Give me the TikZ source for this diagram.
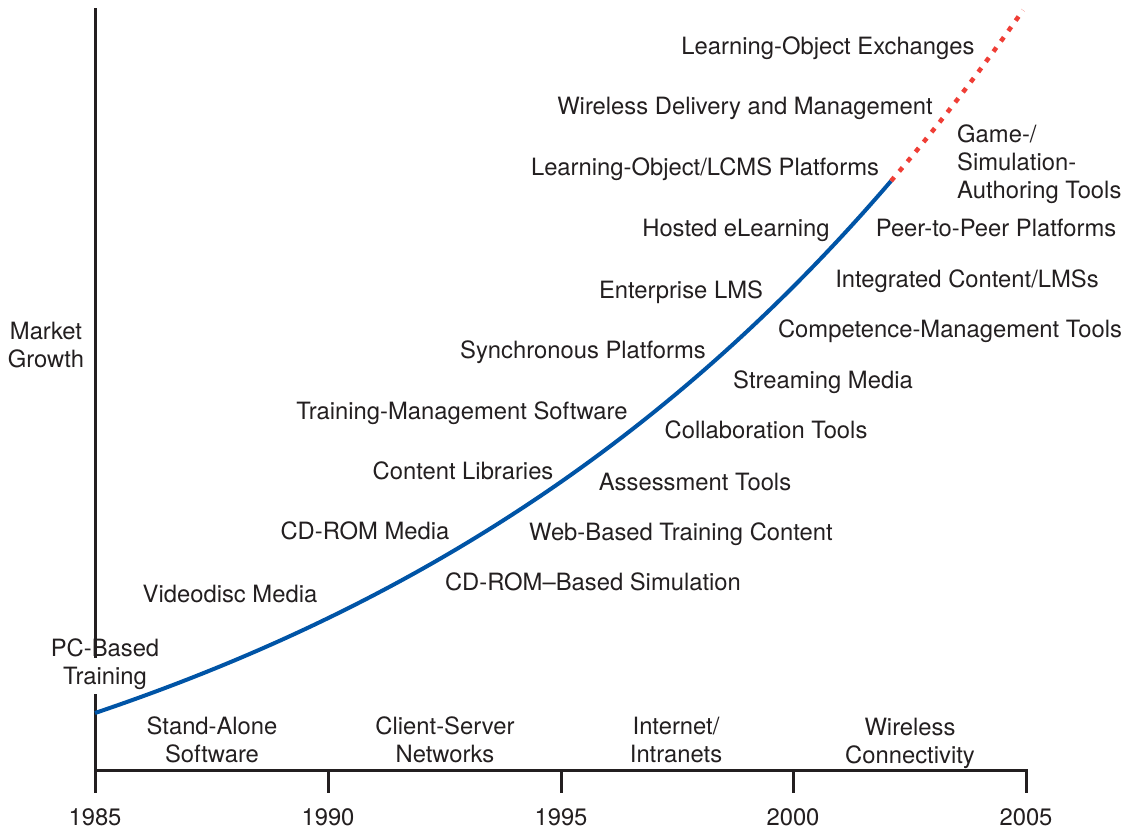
\documentclass[tikz,border=0pt]{standalone}
\usepackage{fontspec}
\setmainfont{TeX Gyre Heros}
\definecolor{txt}{HTML}{231F20}
\definecolor{curveblue}{HTML}{0054A6}
\definecolor{futred}{HTML}{EF3E36}
\begin{document}
\begin{tikzpicture}[x=1pt,y=-1pt,
  lbl/.style={text=txt, font=\fontsize{23.8}{28}\selectfont, inner sep=0pt, align=center, text height=17.1pt, text depth=0pt},
  lbll/.style={lbl, align=left, anchor=west},
  axisline/.style={draw=txt, line width=3pt},
  growth/.style={draw=curveblue, line width=4pt},
  future/.style={draw=futred, line width=4.5pt, dash pattern=on 5pt off 7.7pt}]
\useasboundingbox (0,0) rectangle (1129,831);
% axes
\coordinate (ytop) at (95,8);
\coordinate (ybot) at (95,793);
\coordinate (x0) at (95,770);
\coordinate (x5) at (1026,770);
\coordinate (x5b) at (1026,793);
\draw[axisline] (ytop) -- (ybot);
\draw[axisline] (x0) -- (x5) -- (x5b);
\foreach \t/\xx in {1/328,2/561,3/793} {
  \coordinate (t\t a) at (\xx,770);
  \coordinate (t\t b) at (\xx,793);
  \draw[axisline] (t\t a) -- (t\t b);
}
% years
\node[lbl] (y1985) at (95,817) {1985};
\node[lbl] (y1990) at (328,817) {1990};
\node[lbl] (y1995) at (561,817) {1995};
\node[lbl] (y2000) at (793,817) {2000};
\node[lbl] (y2005) at (1026,817) {2005};
% eras
\node[lbl] (era1) at (212,754) {Stand-Alone\\Software};
\node[lbl] (era2) at (445,754) {Client-Server\\Networks};
\node[lbl] (era3) at (676,754) {Internet/\\Intranets};
\node[lbl] (era4) at (910,755) {Wireless\\Connectivity};
% y labels
\node[lbl] (mg) at (46,359) {Market\\Growth};
\node[lbl, fill=white, inner sep=9pt] (pc) at (105,676) {PC-Based\\Training};
% curve
\draw[growth] plot[domain=95:891,samples=120] (\x,{713-217*(exp(0.00155*(\x-95))-1)});
\draw[future] plot[domain=891:1023,samples=40] (\x,{713-217*(exp(0.00155*(\x-95))-1)});
% labels
\node[lbl] (l1) at (828,46) {Learning-Object Exchanges};
\node[lbl] (l2) at (745,106) {Wireless Delivery and Management};
\node[lbll] (l3) at (957,190) {Game-/\\Simulation-\\Authoring Tools};
\node[lbl] (l4) at (705,167) {Learning-Object/LCMS Platforms};
\node[lbl] (l5) at (736,228) {Hosted eLearning};
\node[lbl] (l6) at (996,228) {Peer-to-Peer Platforms};
\node[lbl] (l7) at (681,290) {Enterprise LMS};
\node[lbl] (l8) at (967,279) {Integrated Content/LMSs};
\node[lbl] (l9) at (950,329) {Competence-Management Tools};
\node[lbl] (l10) at (583,350) {Synchronous Platforms};
\node[lbl] (l11) at (823,380) {Streaming Media};
\node[lbl] (l12) at (462,411) {Training-Management Software};
\node[lbl] (l13) at (766,430) {Collaboration Tools};
\node[lbl] (l14) at (463,471) {Content Libraries};
\node[lbl] (l15) at (695,482) {Assessment Tools};
\node[lbl] (l16) at (365,531) {CD-ROM Media};
\node[lbl] (l17) at (681,532) {Web-Based Training Content};
\node[lbl] (l18) at (230,594) {Videodisc Media};
\node[lbl] (l19) at (593,582) {CD-ROM--Based Simulation};
\end{tikzpicture}
\end{document}
